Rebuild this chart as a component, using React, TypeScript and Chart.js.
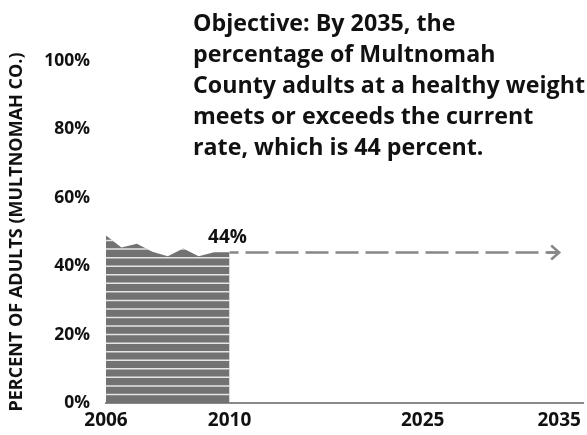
import React, { useEffect, useRef } from 'react';
import { Chart, registerables, LinearScale } from 'chart.js';

// ---------- data ----------
const YEARS = [2006, 2006.5, 2007, 2007.5, 2008, 2008.5, 2009, 2009.5, 2010];
const HEALTHY_WEIGHT = [49, 45.5, 46.6, 44.2, 42.9, 45.2, 42.9, 44.1, 44.1];
const TARGET_YEARS = [2010, 2035];
const TARGET_VALUES = [44, 44];
const X_TICKS = [2006, 2010, 2025, 2035];
const Y_TICKS = [0, 20, 40, 60, 80, 100];
const TARGET_LABEL = '44%';
const Y_TITLE = 'PERCENT OF ADULTS (MULTNOMAH CO.)';
const TITLE_LINES = [
  'Objective: By 2035, the',
  'percentage of Multnomah',
  'County adults at a healthy weight',
  'meets or exceeds the current',
  'rate, which is 44 percent.',
];
const STRIPE_STEP = 2.5;

// ---------- scale config (non-uniform time axis) ----------
const X_BREAK_YEARS = [2006, 2010, 2025, 2035];
const X_BREAK_FRACS = [0, 0.2589, 0.6639, 0.9499];

const FONT = "'Open Sans', 'DejaVu Sans', sans-serif";
const AREA_COLOR = '#727272';
const STRIPE_COLOR = 'rgba(235,235,235,0.95)';
const DASH_COLOR = '#878787';
const TEXT_COLOR = '#111111';

function toFrac(v: number): number {
  const ys = X_BREAK_YEARS, fs = X_BREAK_FRACS;
  let i = 0;
  if (v <= ys[0]) i = 0;
  else if (v >= ys[ys.length - 1]) i = ys.length - 2;
  else {
    while (i < ys.length - 2 && v > ys[i + 1]) i++;
  }
  const t = (v - ys[i]) / (ys[i + 1] - ys[i]);
  return fs[i] + t * (fs[i + 1] - fs[i]);
}

function fromFrac(f: number): number {
  const ys = X_BREAK_YEARS, fs = X_BREAK_FRACS;
  let i = 0;
  if (f <= fs[0]) i = 0;
  else if (f >= fs[fs.length - 1]) i = fs.length - 2;
  else {
    while (i < fs.length - 2 && f > fs[i + 1]) i++;
  }
  const t = (f - fs[i]) / (fs[i + 1] - fs[i]);
  return ys[i] + t * (ys[i + 1] - ys[i]);
}

class PiecewiseScale extends LinearScale {
  static id = 'piecewise';
  static defaults = (LinearScale as any).defaults;
  getPixelForValue(value: number) {
    return (this as any).getPixelForDecimal(toFrac(value));
  }
  getValueForPixel(pixel: number) {
    return fromFrac((this as any).getDecimalForPixel(pixel));
  }
}

Chart.register(...registerables, PiecewiseScale as any);

const decorPlugin = {
  id: 'decor',
  afterDatasetsDraw(chart: any) {
    const { ctx, chartArea } = chart;
    const ys = chart.scales.y;
    const pts = chart.getDatasetMeta(0).data;
    const base = ys.getPixelForValue(0);

    // horizontal stripes inside the area
    ctx.save();
    ctx.beginPath();
    ctx.moveTo(pts[0].x, base);
    pts.forEach((p: any) => ctx.lineTo(p.x, p.y));
    ctx.lineTo(pts[pts.length - 1].x, base);
    ctx.closePath();
    ctx.clip();
    ctx.strokeStyle = STRIPE_COLOR;
    ctx.lineWidth = 1.5;
    for (let v = STRIPE_STEP; v < 100; v += STRIPE_STEP) {
      const y = ys.getPixelForValue(v);
      ctx.beginPath();
      ctx.moveTo(chartArea.left, y);
      ctx.lineTo(chartArea.right, y);
      ctx.stroke();
    }
    ctx.restore();

    // arrow head at the end of the target line
    const tm = chart.getDatasetMeta(1).data;
    const tip = tm[tm.length - 1];
    ctx.save();
    ctx.strokeStyle = DASH_COLOR;
    ctx.lineWidth = 2.5;
    ctx.lineJoin = 'miter';
    ctx.beginPath();
    ctx.moveTo(tip.x - 8, tip.y - 7);
    ctx.lineTo(tip.x, tip.y);
    ctx.lineTo(tip.x - 8, tip.y + 7);
    ctx.stroke();
    ctx.beginPath();
    ctx.moveTo(tip.x - 12, tip.y);
    ctx.lineTo(tip.x - 1, tip.y);
    ctx.stroke();

    // value label
    const start = tm[0];
    ctx.fillStyle = TEXT_COLOR;
    ctx.font = `700 19px ${FONT}`;
    ctx.textAlign = 'center';
    ctx.textBaseline = 'middle';
    ctx.fillText(TARGET_LABEL, start.x - 2, start.y - 15);
    ctx.restore();
  },
  afterDraw(chart: any) {
    const { ctx } = chart;
    ctx.save();
    ctx.font = `700 23.5px ${FONT}`;
    const widest = Math.max(...TITLE_LINES.map((l) => ctx.measureText(l).width));
    const sx = Math.min(1, 392 / widest);
    ctx.fillStyle = TEXT_COLOR;
    ctx.textAlign = 'left';
    ctx.textBaseline = 'alphabetic';
    ctx.translate(193, 0);
    ctx.scale(sx, 1);
    TITLE_LINES.forEach((line, i) => {
      ctx.fillText(line, 0, 31 + i * 31);
    });
    ctx.restore();
  },
};

export default function App() {
  const ref = useRef<HTMLCanvasElement | null>(null);

  useEffect(() => {
    if (!ref.current) return;
    const chart = new Chart(ref.current, {
      type: 'line',
      data: {
        datasets: [
          {
            label: 'Healthy weight',
            data: YEARS.map((x, i) => ({ x, y: HEALTHY_WEIGHT[i] })),
            fill: 'origin',
            backgroundColor: AREA_COLOR,
            borderColor: AREA_COLOR,
            borderWidth: 0,
            pointRadius: 0,
            tension: 0,
          },
          {
            label: 'Target',
            data: TARGET_YEARS.map((x, i) => ({ x, y: TARGET_VALUES[i] })),
            fill: false,
            borderColor: DASH_COLOR,
            borderWidth: 2.5,
            borderDash: [23, 7],
            borderDashOffset: 14,
            pointRadius: 0,
          },
        ],
      },
      options: {
        responsive: false,
        animation: false,
        events: [],
        layout: { padding: { top: 61, right: 2, left: 0, bottom: 0 } },
        plugins: { legend: { display: false }, tooltip: { enabled: false }, title: { display: false } },
        scales: {
          x: {
            type: 'piecewise' as any,
            min: 2006,
            max: 2037,
            afterBuildTicks: (axis: any) => {
              axis.ticks = X_TICKS.map((v) => ({ value: v }));
            },
            afterFit: (axis: any) => {
              axis.height = 32;
            },
            grid: { display: false, drawTicks: false },
            border: { display: true, color: '#8a8a8a', width: 2 },
            ticks: {
              autoSkip: false,
              maxRotation: 0,
              padding: 6,
              color: TEXT_COLOR,
              font: { family: FONT, size: 19, weight: 'bold' },
              callback: (v: any) => String(v),
            },
          } as any,
          y: {
            min: 0,
            max: 100,
            afterBuildTicks: (axis: any) => {
              axis.ticks = Y_TICKS.map((v) => ({ value: v }));
            },
            afterFit: (axis: any) => {
              axis.width = 106;
            },
            grid: { display: false, drawTicks: false },
            border: { display: false },
            ticks: {
              padding: 16,
              color: TEXT_COLOR,
              font: { family: FONT, size: 17.5, weight: 'bold' },
              callback: (v: any) => `${v}%`,
            },
            title: {
              display: true,
              text: Y_TITLE,
              color: TEXT_COLOR,
              font: { family: FONT, size: 18, weight: 'bold' },
              padding: { top: 6, bottom: 0 },
            },
          },
        },
      },
      plugins: [decorPlugin],
    });
    return () => chart.destroy();
  }, []);

  return (
    <div style={{ position: 'absolute', left: 0, top: 0, width: 587, height: 435, background: '#fff' }}>
      <canvas ref={ref} width={587} height={435} />
    </div>
  );
}
